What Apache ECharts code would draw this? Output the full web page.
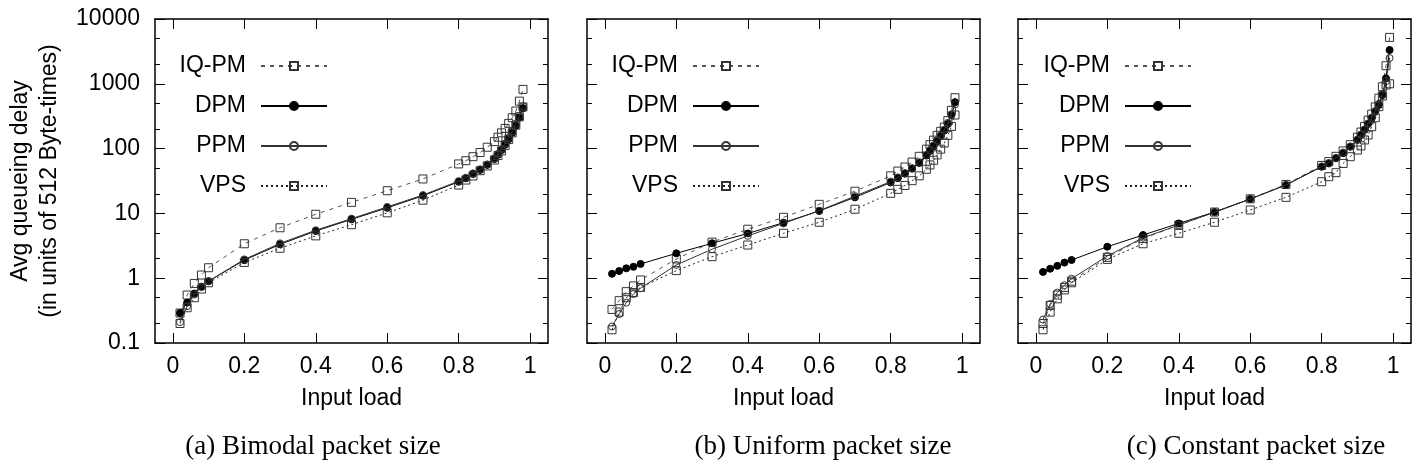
<!DOCTYPE html>
<html><head><meta charset="utf-8">
<script src="https://cdn.jsdelivr.net/npm/echarts@6/dist/echarts.min.js"></script>
<style>html,body{margin:0;padding:0;background:#fff}#c{width:1424px;height:476px}</style>
</head><body><div id="c"></div>
<script>
// ---- data ----
const loads = [0.02,0.04,0.06,0.08,0.1,0.2,0.3,0.4,0.5,0.6,0.7,0.8,0.82,0.84,0.86,0.88,0.9,0.91,0.92,0.93,0.94,0.95,0.96,0.97,0.98];
const loadsC = [0.02,0.04,0.06,0.08,0.1,0.2,0.3,0.4,0.5,0.6,0.7,0.8,0.82,0.84,0.86,0.88,0.9,0.91,0.92,0.93,0.94,0.95,0.96,0.97,0.98,0.99];
const seriesNames = ['IQ-PM','DPM','PPM','VPS'];
const xTickVals = [0,0.2,0.4,0.6,0.8,1];
const yMajorVals = [0.1,1,10,100,1000,10000];
const yMinorVals = [0.2,0.5,2,5,20,50,200,500,2000,5000];
const captions = ['(a) Bimodal packet size','(b) Uniform packet size','(c) Constant packet size'];

// (a) Bimodal
const bimodalIQPM = [0.29,0.55,0.83,1.12,1.45,3.4,6.0,9.7,14.8,22.4,34,58,65,75,87,105,128,150,175,205,245,300,380,540,820];
const bimodalDPM  = [0.29,0.42,0.58,0.74,0.9,1.9,3.33,5.35,8.1,12.2,18.7,30.8,34.8,40.6,46.8,56,69,80,95,115,140,175,225,300,420];
const bimodalPPM  = [0.21,0.37,0.56,0.73,0.9,1.95,3.45,5.5,8.3,12.6,19.2,31.5,35.5,41.5,48,57,71,83,99,120,147,185,240,320,450];
const bimodalVPS  = [0.2,0.35,0.5,0.68,0.85,1.75,2.9,4.5,6.7,10.2,16,27.4,32.7,37.8,45.6,54,66.7,78,92,112,138,175,230,310,440];
// (b) Uniform
const uniformIQPM = [0.33,0.45,0.62,0.76,0.94,1.98,3.6,5.7,8.7,13.8,22,38,45,52,62,76,98,115,135,160,185,215,270,390,610];
const uniformDPM  = [1.17,1.29,1.42,1.5,1.66,2.42,3.46,4.9,7.2,10.9,17.7,30,35,41,49,60,78,92,108,130,155,190,240,330,520];
const uniformPPM  = [0.18,0.28,0.42,0.57,0.7,1.6,2.8,4.5,7.0,11,18.5,31,36,42,50,62,80,95,112,135,160,195,250,340,480];
const uniformVPS  = [0.16,0.3,0.5,0.6,0.72,1.31,2.15,3.25,4.93,7.3,11.6,20.4,23.5,27,32,38,48,56,66,80,98,122,160,220,330];
// (c) Constant
const constantIQPM = [0.2,0.38,0.55,0.72,0.9,2.1,4.1,6.6,10.5,16.8,28,55,63,76,92,115,150,180,220,275,340,440,600,900,1900,5200];
const constantDPM  = [1.25,1.4,1.55,1.74,1.91,3.06,4.64,7.0,10.5,16.7,27.4,52.6,59,71,85,107,136,162,194,240,294,372,471,671,1216,3324];
const constantPPM  = [0.23,0.4,0.6,0.78,0.98,2.2,4.2,6.6,10.4,16.6,27.5,53,60,72,87,108,138,165,198,245,300,380,490,700,1100,2500];
const constantVPS  = [0.16,0.3,0.48,0.66,0.85,1.95,3.4,4.93,7.3,11.3,17.7,30.8,36.8,42.5,59,75,95,110,136,162,218,300,444,650,958,1000];

const panels = [
  {x: loads,  vals: [bimodalIQPM, bimodalDPM, bimodalPPM, bimodalVPS]},
  {x: loads,  vals: [uniformIQPM, uniformDPM, uniformPPM, uniformVPS]},
  {x: loadsC, vals: [constantIQPM, constantDPM, constantPPM, constantVPS]}
];

// ---- layout / style ----
const gridLefts = [155, 587, 1018];
const gridW = 393, gridTop = 19, gridH = 324;
const legendRights = [1096, 664, 232];
const captionX = [313, 823, 1256];
const SANS = '"Liberation Sans", Arial, sans-serif';
const SERIF = '"Liberation Serif", "Times New Roman", serif';
const FS = 23;
const styles = [
  {symbol:'rect', symbolSize:8, lineStyle:{color:'#555', width:1, type:[4,5]}, itemStyle:{color:'rgba(255,255,255,0)', borderColor:'#333', borderWidth:1}},
  {symbol:'circle', symbolSize:7, lineStyle:{color:'#000', width:1, type:'solid'}, itemStyle:{color:'#000', borderColor:'#000', borderWidth:1}},
  {symbol:'circle', symbolSize:7, lineStyle:{color:'#333', width:1, type:'solid'}, itemStyle:{color:'rgba(255,255,255,0)', borderColor:'#333', borderWidth:1}},
  {symbol:'rect', symbolSize:8, lineStyle:{color:'#222', width:1, type:[2,3]}, itemStyle:{color:'rgba(255,255,255,0)', borderColor:'#333', borderWidth:1}}
];

const grid = [], xAxis = [], yAxis = [], series = [], legend = [], graphic = [];
panels.forEach((p, i) => {
  grid.push({left: gridLefts[i], top: gridTop, width: gridW, height: gridH, containLabel: false});
  const xBase = {
    type: 'value', gridIndex: i, min: -0.05, max: 1.05,
    splitLine: {show: false},
    axisLine: {show: true, onZero: false, lineStyle: {color: '#000', width: 1.5}},
    axisTick: {show: true, inside: true, length: 10, customValues: xTickVals, lineStyle: {color: '#000', width: 1}}
  };
  xAxis.push(Object.assign({}, xBase, {
    position: 'bottom',
    axisLabel: {show: true, customValues: xTickVals, margin: 12, color: '#000', fontSize: FS, fontFamily: SANS,
      formatter: v => String(Math.round(v * 10) / 10)},
    name: 'Input load', nameLocation: 'middle', nameGap: 44,
    nameTextStyle: {color: '#000', fontSize: FS, fontFamily: SANS, lineHeight: FS}
  }));
  xAxis.push(Object.assign({}, xBase, {position: 'top', axisLabel: {show: false}}));

  const yBase = {
    type: 'log', logBase: 10, gridIndex: i, min: 0.1, max: 10000,
    splitLine: {show: false}, minorTick: {show: false}, axisLabel: {show: false}
  };
  ['left', 'right'].forEach(pos => {
    const major = Object.assign({}, yBase, {
      position: pos,
      axisLine: {show: true, onZero: false, lineStyle: {color: '#000', width: 1.5}},
      axisTick: {show: true, inside: true, length: 10, customValues: yMajorVals, lineStyle: {color: '#000', width: 1}}
    });
    if (pos === 'left' && i === 0) {
      major.axisLabel = {show: true, customValues: yMajorVals, margin: 15, color: '#000', fontSize: FS, fontFamily: SANS,
        formatter: v => (v < 1 ? v.toFixed(1) : String(Math.round(v)))};
      major.name = 'Avg queueing delay\n(in units of 512 Byte-times)';
      major.nameLocation = 'middle';
      major.nameGap = 91;
      major.nameTextStyle = {color: '#000', fontSize: FS, fontFamily: SANS, lineHeight: 29};
    }
    yAxis.push(major);
    yAxis.push(Object.assign({}, yBase, {
      position: pos, offset: 0,
      axisLine: {show: false, onZero: false},
      axisTick: {show: true, inside: true, length: 5, customValues: yMinorVals, lineStyle: {color: '#000', width: 1}}
    }));
  });

  seriesNames.forEach((nm, k) => {
    const st = styles[k];
    series.push({
      name: nm, type: 'line', xAxisIndex: i * 2, yAxisIndex: i * 4,
      data: p.x.map((xv, j) => [xv, p.vals[k][j]]),
      symbol: st.symbol, symbolSize: st.symbolSize, showAllSymbol: true,
      lineStyle: st.lineStyle, itemStyle: st.itemStyle,
      emphasis: {disabled: true}, animation: false, z: 2 + k
    });
  });

  legend.push({
    data: seriesNames, orient: 'vertical', align: 'right', right: legendRights[i], top: 54.5,
    padding: 0, itemWidth: 66, itemHeight: 10, itemGap: 17, selectedMode: false,
    textStyle: {color: '#000', fontSize: FS, fontFamily: SANS, lineHeight: 22, padding: [0, 10, 0, 0]}
  });

  graphic.push({
    type: 'text', x: captionX[i], y: 447,
    style: {text: captions[i], align: 'center', verticalAlign: 'middle', font: '27px ' + SERIF, fill: '#000'}
  });
});

const chart = echarts.init(document.getElementById('c'), null, {renderer: 'canvas'});
chart.setOption({animation: false, backgroundColor: '#fff', grid, xAxis, yAxis, series, legend, graphic});
</script>
</body></html>
